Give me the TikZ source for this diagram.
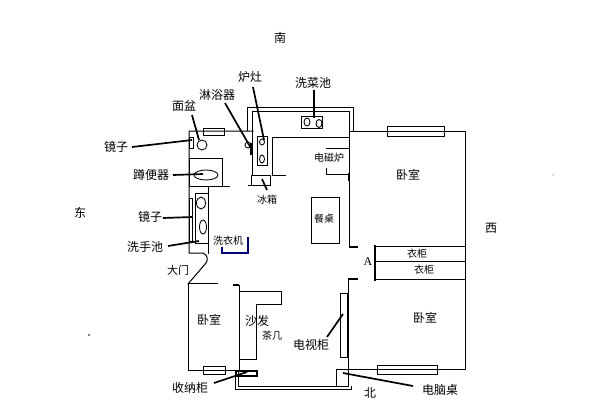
\documentclass[tikz,border=0pt]{standalone}
\usepackage{fontspec}
\setmainfont{Noto Sans CJK SC}
\setsansfont{Liberation Serif}
\tikzset{
  wall/.style={draw=black,line width=1pt,line cap=rect},
  stub/.style={draw=black,line width=1.8pt},
  leader/.style={draw=black,line width=1.7pt},
  thin/.style={draw=black,line width=0.85pt},
  lab/.style={inner sep=0pt,font=\fontsize{12}{12}\selectfont,text=black},
  labs/.style={inner sep=0pt,font=\fontsize{10}{10}\selectfont,text=black}
}
\begin{document}
\begin{tikzpicture}[x=1pt,y=-1pt]
\useasboundingbox[fill=white] (0,0) rectangle (600,400);
% compass
\node[lab] (s) at (280,38) {南};
\node[lab] (e) at (80,213) {东};
\node[lab] (w) at (491,228) {西};
\node[lab] (n) at (370,393) {北};
% bathroom
\draw[wall] (253,131) -- (189,131) -- (189,253) -- (203,253)
  .. controls (208,255) and (208,260) .. (206,263) -- (188,284);
\draw[thin] (203,128) rectangle (224,135);
\draw[thin] (189,137) rectangle (193,148);
\draw[thin] (202,145) circle (5);
\draw[thin] (189,158) rectangle (222,186);
\draw[thin] (206,175) ellipse (12 and 5);
\draw[thin] (222,186) -- (230,186);
\draw[thin] (195,193) rectangle (208,243);
\draw[wall] (208,186) -- (208,253);
\draw[thin] (189,198) rectangle (192,241);
\draw[thin] (201,203) ellipse (4.5 and 6);
\draw[thin] (203,227) ellipse (3.5 and 7);
\draw[draw=blue!45!black,line width=1.7pt] (222,247) -- (222,253) -- (248,253) -- (248,237);
% kitchen
\draw[wall] (247,130) -- (247,107) -- (353,107) -- (353,130);
\draw[wall] (252,175) -- (252,111) -- (349,111) -- (349,247);
\draw[wall] (285,175.5) -- (272,175.5) -- (272,137) -- (349,137);
\draw[thin] (251,175.5) -- (270,175.5) -- (270,185.5);
\draw[thin] (248,185.5) -- (270,185.5);
\draw[line width=1.8pt] (251.5,175) -- (251.5,186);
\draw[thin] (326,148) -- (349,148);
\draw[thin] (326,168) -- (326,174) -- (349,174);
\draw[line width=1.4pt] (349,173) -- (349,181);
\draw[thin] (301,116) rectangle (322,128);
\draw[thin] (307,122) ellipse (3 and 4);
\draw[thin] (319,123.5) ellipse (3 and 4);
\draw[thin] (257,136) rectangle (267,165);
\draw[thin] (262,142) ellipse (2.5 and 3);
\draw[thin] (262,159) ellipse (2.5 and 4);
\draw[thin] (248,145) circle (3);
\draw[line width=2.2pt] (251,143) -- (251,155);
% table
\draw[thin] (311,197) rectangle (339,243);
% NE bedroom
\draw[wall] (349,131) -- (465.5,131) -- (465.5,369) -- (348,369);
\draw[thin] (387,126) rectangle (444,136);
\draw[stub] (349,247) -- (358,247);
\draw[stub] (348,279) -- (358,279);
\draw[line width=2pt] (375,245) -- (375,281);
\draw[thin] (375,246) -- (465,246);
\draw[thin] (375,261) -- (465,261);
\draw[thin] (375,279) -- (465,279);
\draw[wall] (348,279) -- (348,386);
\draw[thin] (377,365) rectangle (437,374);
\draw[thin] (340,293) rectangle (347,357);
% SW bedroom
\draw[wall] (217,283) -- (188,283) -- (188,370) -- (239,370);
\draw[stub] (233,285) -- (239,285);
\draw[wall] (239,285) -- (239,371);
\draw[thin] (203,366) rectangle (225,374);
% sofa
\draw[wall] (239,291) -- (281,291) -- (281,304) -- (256,304) -- (256,359) -- (239,359);
% storage & bottom wall
\draw[line width=1.1pt] (236,371) rectangle (257,376);
\draw[wall] (238,371) -- (238,386) -- (348,386);
\draw[wall] (235.5,371) -- (235.5,389.5) -- (351.5,389.5) -- (351.5,386);
\draw[thin] (336,369) rectangle (348,386);
% leaders
\coordinate (lBasinA) at (192,115); \coordinate (lBasinB) at (199,140);
\coordinate (lMirA) at (132,147);   \coordinate (lMirB) at (192,140);
\coordinate (lToiA) at (173,175);   \coordinate (lToiB) at (203,174);
\coordinate (lShA) at (225,103);    \coordinate (lShB) at (252,150);
\coordinate (lStA) at (253,87);     \coordinate (lStB) at (264,140);
\coordinate (lSiA) at (314,90);     \coordinate (lSiB) at (314,118);
\coordinate (lFrA) at (262,179);    \coordinate (lFrB) at (267,190);
\coordinate (lM2A) at (163,218);    \coordinate (lM2B) at (192,217);
\coordinate (lHaA) at (168,246);    \coordinate (lHaB) at (199,241);
\coordinate (lStoA) at (214,383);   \coordinate (lStoB) at (247,372);
\coordinate (lTvA) at (327,337);    \coordinate (lTvB) at (343,314);
\coordinate (lPcA) at (343,373);    \coordinate (lPcB) at (413,386);
\draw[leader] (lBasinA) -- (lBasinB);
\draw[leader] (lMirA) -- (lMirB);
\draw[leader] (lToiA) -- (lToiB);
\draw[leader] (lShA) -- (lShB);
\draw[leader] (lStA) -- (lStB);
\draw[leader] (lSiA) -- (lSiB);
\draw[leader] (lFrA) -- (lFrB);
\draw[leader] (lM2A) -- (lM2B);
\draw[leader] (lHaA) -- (lHaB);
\draw[leader] (lStoA) -- (lStoB);
\draw[leader] (lTvA) -- (lTvB);
\draw[leader] (lPcA) -- (lPcB);
% labels
\node[lab] (t1) at (250,77) {炉灶};
\node[lab] (t2) at (313,83) {洗菜池};
\node[lab] (t3) at (217,95) {淋浴器};
\node[lab] (t4) at (184,106) {面盆};
\node[lab] (t5) at (116,147) {镜子};
\node[lab] (t6) at (151,175) {蹲便器};
\node[labs] (t7) at (267,200) {冰箱};
\node[lab] (t8) at (150,217) {镜子};
\node[lab] (t9) at (145,247) {洗手池};
\node[labs] (t10) at (228,241) {洗衣机};
\node[labs,font=\fontsize{11}{11}\selectfont] (t11) at (178,270) {大门};
\node[lab] (t12) at (408,175) {卧室};
\node[labs] (t13) at (329,158) {电磁炉};
\node[labs] (t14) at (324,219) {餐桌};
\node[labs] (t15) at (417,254) {衣柜};
\node[labs] (t16) at (424,270) {衣柜};
\node[inner sep=0pt,font=\sffamily\fontsize{12}{12}\selectfont] (t17) at (368,262) {A};
\node[lab] (t18) at (209,320) {卧室};
\node[lab] (t19) at (257,321) {沙发};
\node[labs] (t20) at (272,336) {茶几};
\node[lab] (t21) at (311,345) {电视柜};
\node[lab] (t22) at (425,318) {卧室};
\node[lab] (t23) at (190,388) {收纳柜};
\node[lab] (t24) at (440,390) {电脑桌};
\fill[black] (89,335) circle (0.8);
\fill[black!60] (553,175) circle (0.6);
\end{tikzpicture}
\end{document}
